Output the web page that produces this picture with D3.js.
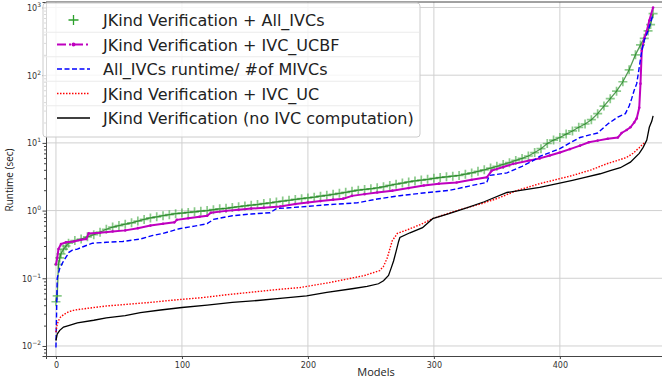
<!DOCTYPE html>
<html>
<head>
<meta charset="utf-8">
<script src="https://cdn.jsdelivr.net/npm/d3@7"></script>
<style>
  body { margin: 0; background: #fff; }
  svg { display: block; }
  .tick text { font-family: "DejaVu Sans", sans-serif; fill: #333; }
</style>
</head>
<body>
<div id="chart"></div>
<script>
// values: [model index, runtime (sec)]
const allIvcs = [
  [0,0.045],[1,0.055],[2,0.16],[3,0.2],[4,0.23],[6,0.27],[8,0.3],[10,0.33],[15,0.36],[20,0.38],
  [25,0.41],[30,0.44],[35,0.48],[40,0.53],[45,0.57],[50,0.6],[55,0.63],[60,0.66],[65,0.7],[70,0.74],
  [75,0.78],[80,0.81],[85,0.84],[90,0.87],[95,0.9],[100,0.92],[105,0.94],[110,0.96],[115,0.98],[120,1.0],
  [125,1.03],[130,1.06],[135,1.08],[140,1.11],[145,1.14],[150,1.17],[155,1.2],[160,1.23],[165,1.27],[170,1.3],
  [175,1.34],[180,1.38],[185,1.42],[190,1.46],[195,1.5],[200,1.54],[205,1.58],[210,1.63],[215,1.68],[220,1.74],
  [225,1.8],[230,1.86],[235,1.93],[240,2.0],[245,2.05],[250,2.1],[255,2.17],[260,2.25],[265,2.35],[270,2.45],
  [275,2.55],[280,2.65],[285,2.74],[290,2.82],[295,2.9],[300,3.0],[305,3.08],[310,3.15],[315,3.22],[320,3.3],
  [325,3.45],[330,3.6],[335,3.8],[340,4.0],[345,4.25],[350,4.5],[355,4.8],[360,5.1],[365,5.5],[370,5.9],
  [375,6.4],[380,7.2],[385,8.2],[390,9.8],[395,11],[400,12],[405,13.5],[410,15],[415,17],[420,19],
  [425,22],[430,27],[435,35],[440,45],[445,58],[450,80],[455,120],[460,200],[464,280],[467,350],
  [470,450],[472,560],[474,810]
];
const ivcUcbf = [
  [0,0.16],[1,0.2],[2,0.27],[4,0.32],[8,0.34],[14,0.35],[20,0.37],[24,0.38],[26,0.46],[35,0.47],
  [45,0.49],[55,0.51],[65,0.55],[75,0.6],[85,0.64],[94,0.67],[96,0.73],[105,0.77],[114,0.81],[120,0.84],
  [123,0.93],[135,0.99],[145,1.03],[155,1.07],[165,1.1],[178,1.15],[190,1.25],[200,1.32],[210,1.38],[220,1.45],
  [228,1.5],[235,1.65],[245,1.75],[255,1.85],[267,1.97],[280,2.15],[292,2.35],[304,2.5],[318,2.6],[330,2.85],
  [342,3.1],[346,3.9],[355,4.4],[363,4.9],[376,5.5],[384,5.9],[392,6.5],[400,7.2],[408,8.1],[416,9.1],
  [423,10.2],[430,10.8],[438,11.5],[446,12],[449,14],[453,15.5],[456,17],[459,20],[461,23],[463,33],
  [464,75],[465,230],[467,350],[469,450],[471,640],[474,1000]
];
const perMivc = [
  [0,0.0095],[1,0.1],[3,0.14],[6,0.18],[9,0.22],[10,0.24],[13,0.26],[17,0.27],[21,0.29],[29,0.33],
  [40,0.34],[53,0.35],[67,0.38],[77,0.43],[85,0.46],[98,0.54],[110,0.59],[120,0.64],[125,0.74],[140,0.84],
  [155,0.89],[170,0.93],[175,1.07],[185,1.1],[199,1.15],[215,1.22],[239,1.3],[255,1.48],[273,1.66],[295,1.85],
  [313,2.0],[328,2.3],[342,2.6],[344,3.3],[358,3.6],[370,4.5],[379,5.5],[384,6.3],[392,7.2],[400,8.2],
  [408,10],[416,12],[423,13],[430,14],[438,19],[446,24],[452,27],[455,35],[457,45],[459,60],
  [461,75],[463,130],[465,230],[467,330],[470,450],[472,600],[474,800]
];
const ivcUc = [
  [0,0.016],[1,0.021],[3,0.026],[6,0.029],[10,0.032],[15,0.034],[25,0.036],[40,0.039],[55,0.041],[75,0.044],
  [90,0.047],[117,0.052],[135,0.057],[154,0.062],[175,0.068],[194,0.073],[215,0.085],[233,0.099],[245,0.11],[257,0.13],
  [260,0.15],[263,0.2],[265,0.27],[267,0.36],[271,0.46],[280,0.53],[290,0.63],[299,0.76],[312,0.92],[326,1.1],
  [340,1.3],[352,1.55],[366,1.98],[384,2.5],[398,2.9],[410,3.3],[425,4.0],[437,4.9],[447,5.6],[453,6.1],
  [458,7],[463,8.5],[467,10]
];
const noIvc = [
  [0,0.012],[1,0.015],[3,0.017],[6,0.019],[10,0.02],[17,0.022],[30,0.024],[40,0.026],[55,0.028],[67,0.031],
  [83,0.034],[100,0.037],[120,0.04],[140,0.044],[160,0.047],[180,0.051],[199,0.055],[215,0.062],[235,0.07],[247,0.076],
  [256,0.083],[260,0.092],[264,0.11],[266,0.14],[268,0.18],[270,0.25],[272,0.35],[273,0.4],[281,0.47],[291,0.56],
  [299,0.76],[312,0.9],[326,1.1],[340,1.35],[358,1.85],[370,2.0],[384,2.2],[398,2.5],[410,2.8],[420,3.1],
  [432,3.5],[440,3.9],[448,4.3],[456,5.2],[463,7],[466,8.5],[469,11],[471,17],[473,21],[474,25]
];
const xTicks = [0, 100, 200, 300, 400];
const yDecades = [-2, -1, 0, 1, 2, 3];
const legendLabels = [
  "JKind Verification + All_IVCs",
  "JKind Verification + IVC_UCBF",
  "All_IVCs runtime/ #of MIVCs",
  "JKind Verification + IVC_UC",
  "JKind Verification (no IVC computation)"
];

const width = 662, height = 381;
const pL = 46, pT = 2, pR = 706, pB = 356;

const svg = d3.select("#chart").append("svg")
  .attr("width", width).attr("height", height);

const x = d3.scaleLinear().domain([-7.9, 516]).range([pL, pR]);
const y = d3.scaleLog().domain([Math.pow(10, -2.148), Math.pow(10, 3.081)]).range([pB, pT]);

svg.append("clipPath").attr("id", "plot-clip")
  .append("rect").attr("x", pL).attr("y", pT).attr("width", pR - pL).attr("height", pB - pT);

// grid
const grid = svg.append("g").attr("stroke", "#d0d0d0").attr("stroke-width", 1);
grid.selectAll(".gx").data(xTicks).enter().append("line")
  .attr("x1", d => x(d)).attr("x2", d => x(d)).attr("y1", pT).attr("y2", pB);
grid.selectAll(".gy").data(yDecades).enter().append("line")
  .attr("x1", pL).attr("x2", pR).attr("y1", d => y(Math.pow(10, d))).attr("y2", d => y(Math.pow(10, d)));

const plot = svg.append("g").attr("clip-path", "url(#plot-clip)");
const line = d3.line().x(d => x(d[0])).y(d => y(d[1]));

// green + markers
plot.selectAll(".plus").data(allIvcs).enter().append("path")
  .attr("d", "M-4.5,0H4.5M0,-4.5V4.5")
  .attr("transform", d => `translate(${x(d[0])},${y(d[1])})`)
  .attr("stroke", "#2ca02c").attr("stroke-width", 1.7).attr("opacity", 0.55);
plot.append("path").datum(allIvcs).attr("d", line)
  .attr("fill", "none").attr("stroke", "#1a7a1a").attr("stroke-width", 1.3).attr("opacity", 0.75);

// magenta
plot.append("path").datum(ivcUcbf).attr("d", line)
  .attr("fill", "none").attr("stroke", "#bf00bf").attr("stroke-width", 2);
plot.selectAll(".dot").data(ivcUcbf).enter().append("circle")
  .attr("cx", d => x(d[0])).attr("cy", d => y(d[1])).attr("r", 1.3).attr("fill", "#bf00bf");

// blue dashed
plot.append("path").datum(perMivc).attr("d", line)
  .attr("fill", "none").attr("stroke", "#0000ff").attr("stroke-width", 1.4).attr("stroke-dasharray", "5,2.5");

// red dotted
plot.append("path").datum(ivcUc).attr("d", line)
  .attr("fill", "none").attr("stroke", "#ff0000").attr("stroke-width", 1.4).attr("stroke-dasharray", "1.5,1.5");

// black
plot.append("path").datum(noIvc).attr("d", line)
  .attr("fill", "none").attr("stroke", "#000").attr("stroke-width", 1.3);

// axes
const yMinor = [];
yDecades.concat([-3]).forEach(e => {
  for (let k = 2; k <= 9; k++) {
    const v = k * Math.pow(10, e);
    if (v > y.domain()[0] && v < y.domain()[1]) yMinor.push(v);
  }
});

const yAxis = svg.append("g").attr("transform", `translate(${pL},0)`)
  .call(d3.axisLeft(y).tickValues(yDecades.map(e => Math.pow(10, e))).tickSize(3.5).tickFormat(""));
svg.append("g").attr("transform", `translate(${pL},0)`)
  .call(d3.axisLeft(y).tickValues(yMinor).tickSize(2).tickFormat(""))
  .call(g => g.select(".domain").remove());

const xAxis = svg.append("g").attr("transform", `translate(0,${pB})`)
  .call(d3.axisBottom(x).tickValues(xTicks).tickSize(3).tickPadding(3));
xAxis.selectAll("text").attr("font-size", 8);

[yAxis, xAxis].forEach(g => g.select(".domain").attr("stroke", "#444"));
svg.selectAll(".tick line").attr("stroke", "#444");

svg.append("line").attr("x1", pL).attr("x2", pR).attr("y1", pT).attr("y2", pT)
  .attr("stroke", "#444");

// y decade labels 10^n
const yl = svg.append("g").attr("font-family", "DejaVu Sans, sans-serif").attr("fill", "#333");
yDecades.forEach(e => {
  const t = yl.append("text").attr("x", 41).attr("y", y(Math.pow(10, e)) + 3.5)
    .attr("text-anchor", "end").attr("font-size", 8);
  t.append("tspan").text("10");
  t.append("tspan").attr("dy", -4).attr("font-size", 6).text(e < 0 ? "\u2212" + (-e) : String(e));
});

svg.append("text").attr("x", 376).attr("y", 376).attr("text-anchor", "middle")
  .attr("font-family", "Open Sans, sans-serif").attr("font-size", 11).attr("fill", "#222").text("Models");
svg.append("text").attr("transform", "translate(13,180) rotate(-90)").attr("text-anchor", "middle")
  .attr("font-family", "Open Sans, sans-serif").attr("font-size", 10).attr("fill", "#222").text("Runtime (sec)");

// legend
const lg = svg.append("g");
lg.append("rect").attr("x", 43).attr("y", 3).attr("width", 377).attr("height", 134).attr("rx", 3)
  .attr("fill", "#fff").attr("fill-opacity", 0.8).attr("stroke", "#cccccc");
const rowY = d3.scaleLinear().domain([0, 4]).range([20, 118]);
[0, 1, 2, 3].forEach(i => {
  lg.append("line").attr("x1", 44).attr("x2", 419)
    .attr("y1", (rowY(i) + rowY(i + 1)) / 2).attr("y2", (rowY(i) + rowY(i + 1)) / 2)
    .attr("stroke", "#ebebeb");
});
const hx1 = 57, hx2 = 90;
lg.append("path").attr("d", `M${(hx1 + hx2) / 2 - 5},${rowY(0)}h10M${(hx1 + hx2) / 2},${rowY(0) - 5}v10`)
  .attr("stroke", "#2ca02c").attr("stroke-width", 1.3);
lg.append("line").attr("x1", hx1).attr("x2", hx2).attr("y1", rowY(1)).attr("y2", rowY(1))
  .attr("stroke", "#bf00bf").attr("stroke-width", 2).attr("stroke-dasharray", "9,3,2,3");
lg.append("circle").attr("cx", (hx1 + hx2) / 2).attr("cy", rowY(1)).attr("r", 2).attr("fill", "#bf00bf");
lg.append("line").attr("x1", hx1).attr("x2", hx2).attr("y1", rowY(2)).attr("y2", rowY(2))
  .attr("stroke", "#0000ff").attr("stroke-width", 1.5).attr("stroke-dasharray", "5,2.5");
lg.append("line").attr("x1", hx1).attr("x2", hx2).attr("y1", rowY(3)).attr("y2", rowY(3))
  .attr("stroke", "#ff0000").attr("stroke-width", 1.5).attr("stroke-dasharray", "1.5,1.5");
lg.append("line").attr("x1", hx1).attr("x2", hx2).attr("y1", rowY(4)).attr("y2", rowY(4))
  .attr("stroke", "#000").attr("stroke-width", 1.5);
lg.selectAll(".lt").data(legendLabels).enter().append("text")
  .attr("x", 103).attr("y", (d, i) => rowY(i) + 6)
  .attr("font-family", "DejaVu Sans, sans-serif").attr("font-size", 16).attr("fill", "#222")
  .text(d => d);
</script>
</body>
</html>
